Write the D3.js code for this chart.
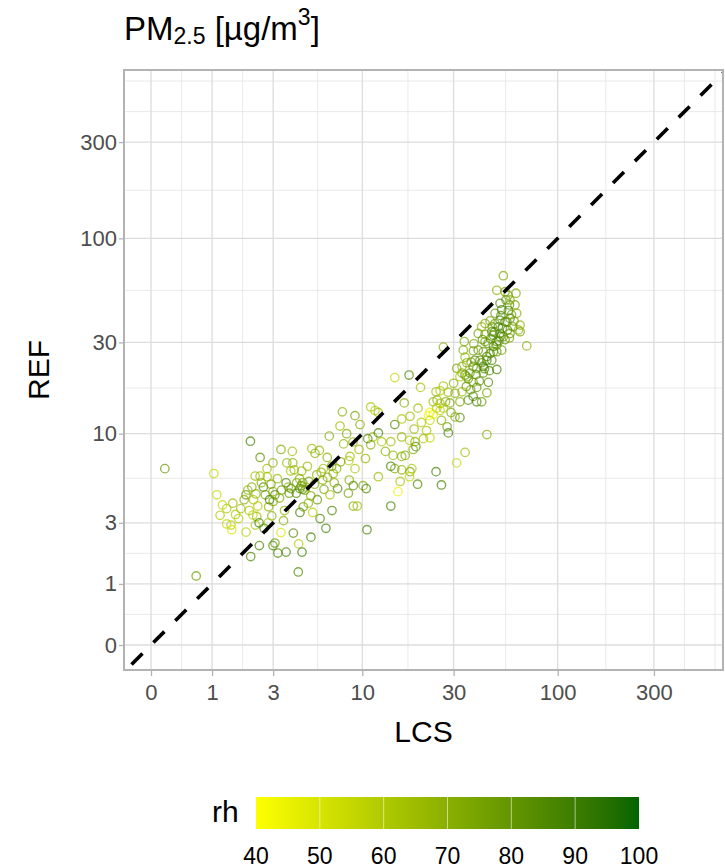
<!DOCTYPE html>
<html><head><meta charset="utf-8">
<script src="https://cdn.jsdelivr.net/npm/d3@7"></script>
<style>body{margin:0;background:#fff} svg{display:block;font-family:"Liberation Sans",Arial,sans-serif}</style>
</head><body><svg id="c" width="725" height="868"></svg>
<script>
// ---- data ----
const lcs = [
0.17,1.04,1.11,1.19,1.36,1.53,1.61,1.77,1.36,1.48,
1.5,1.94,1.88,2.09,2.14,2.26,2.29,2.36,2.18,2.27,
2.32,1.94,2.45,2.45,2.58,2.66,2.73,2.74,2.8,2.41,
2.61,2.84,2.94,2.99,2.99,3.08,3.0,2.78,3.37,3.37,
3.67,3.63,3.75,3.55,3.97,4.0,3.88,4.08,4.22,4.42,
4.59,4.59,4.53,4.74,4.42,4.63,4.03,4.34,4.55,3.63,
3.22,3.08,2.99,2.42,2.1,4.32,5.14,5.26,4.96,5.13,
5.2,5.43,5.56,5.81,6.28,5.76,6.07,6.02,6.12,6.39,
6.56,6.62,6.91,6.77,7.22,7.31,7.54,7.77,8.21,8.43,
8.57,8.49,8.39,8.93,9.12,9.12,9.39,9.72,10.1,10.5,
10.4,10.6,8.93,0.67,4.5,4.8,5.0,3.9,
26.6,34.0,37.8,40.0,43.3,47.7,51.5,53.5,57.8,64.9,
70.1,49.6,47.7,44.2,41.6,39.3,35.0,34.3,31.1,33.1,
35.0,36.3,37.7,45.0,49.6,42.4,39.3,36.6,37.7,35.6,
41.6,44.2,39.3,33.1,32.3,30.5,28.2,28.7,27.3,29.1,
30.5,32.3,27.8,28.2,26.6,25.6,24.4,23.6,24.7,25.6,
22.7,23.6,22.3,25.6,26.6,24.6,22.7,20.3,17.7,14.9,
16.7,19.7,17.9,16.2,14.9,44.2,34.3,31.1,24.4,26.0,
19.6,17.9,17.8,15.5,14.2,15.9,16.2,16.9,14.6,14.2,
14.9,16.2,12.2,11.4,11.1,12.7,12.2,10.7,14.2,16.2,
17.8,19.0,19.2,18.6,22.7,21.0,11.7,12.2,11.1,18.3,
53.5,49.6,61.9,55.2,57.4,61.2,51.5,48.6,52.5,56.7,
62.4,64.9,63.7,57.8,54.6,51.5,48.6,45.9,43.3,41.6,
46.8,50.5,56.1,59.7,54.6,57.8,51.5,49.6,54.6,57.4,
47.7,45.9,49.6,52.5,44.2,46.8,42.4,40.8,37.7,33.6,
33.1,34.3,35.6,32.3,40.0,42.4,38.5,43.3,
2.0,2.2,2.5,2.9,3.2,3.4,3.3,3.8,4.2,4.4,
4.9,5.4,5.9,6.4,7.0,7.6,7.9,8.9,9.6,5.6,
6.8,3.5,1.7,2.05,1.25,
44.8,46.2,48.2,50.8,53.0,55.8,58.8,52.0,47.0,39.0,
40.5,36.8,43.0,45.5,30.0,34.8,60.5,56.5,38.0,42.0,
20.5,18.8,13.3,21.8,26.0
];
const ref = [
6.4,6.0,4.5,3.36,3.7,4.0,3.4,3.7,2.95,2.9,
2.7,4.5,4.2,9.1,5.0,5.8,4.55,3.84,3.37,2.9,
3.3,2.6,7.4,5.8,5.0,4.5,6.4,5.75,3.8,3.0,
2.76,4.2,3.33,6.9,4.7,4.5,4.1,3.0,8.2,2.58,
6.9,5.3,5.0,3.6,8.0,6.9,6.2,6.3,5.3,4.9,
4.85,5.3,6.2,4.8,3.5,3.8,2.56,2.15,1.87,1.87,
1.84,2.18,2.09,2.09,1.73,1.29,2.4,3.5,4.0,4.44,
8.3,7.8,5.9,3.2,2.76,8.1,6.4,5.5,4.85,7.4,
9.7,4.5,6.0,6.6,6.4,4.9,11.0,13.1,10.0,7.1,
7.5,5.5,4.6,3.84,12.5,6.4,3.84,11.2,5.1,4.9,
7.3,2.7,5.1,1.19,5.1,5.0,5.4,4.9,
28.4,30.3,27.2,33.3,33.0,32.6,33.3,32.1,33.3,34.0,
28.8,29.1,26.9,25.4,23.6,22.1,23.6,25.2,22.1,20.9,
20.0,20.9,18.7,18.7,21.8,20.9,17.6,17.1,15.8,15.1,
14.8,16.5,14.8,16.7,14.8,16.4,16.6,14.6,14.8,13.0,
12.3,12.2,10.9,10.1,17.9,16.9,16.7,14.8,15.1,14.5,
13.0,12.7,12.5,13.3,13.7,13.7,11.8,17.6,20.4,19.8,
14.6,13.7,12.4,12.0,11.2,9.9,7.9,6.9,6.15,5.15,
5.2,6.15,5.75,4.7,3.84,5.4,7.5,7.6,7.6,6.6,
6.4,6.3,5.75,9.6,8.7,9.05,10.1,9.4,9.05,9.6,
9.2,9.05,8.5,8.2,9.5,9.4,13.3,13.0,13.9,6.4,
65.1,55.0,53.2,49.2,46.4,46.4,47.3,42.1,43.9,43.5,
42.1,36.7,34.7,39.7,38.2,38.9,37.4,38.6,37.4,36.0,
34.0,36.0,34.7,36.0,54.1,49.2,32.1,30.3,31.0,31.6,
28.6,26.3,26.9,27.4,24.3,24.3,22.6,24.3,22.6,27.4,
22.6,20.4,19.5,20.0,27.4,26.9,24.3,30.3,
4.8,4.2,5.3,5.2,5.6,4.8,4.3,4.6,4.6,5.6,
6.6,5.2,6.1,5.7,5.3,7.0,8.8,9.0,8.2,4.2,
3.6,3.1,3.2,3.6,3.9,
29.6,31.4,33.8,30.6,35.5,38.0,41.5,41.0,36.0,20.5,
19.0,23.8,22.0,21.5,18.5,17.8,38.5,52.0,29.5,31.0,
11.5,10.6,8.0,10.4,11.8
];
const rh = [
80,55,55,60,62,65,60,65,55,60,
50,80,70,88,72,65,70,60,55,60,
65,58,82,65,88,75,65,62,68,90,
88,88,70,70,70,85,75,65,72,50,
68,88,72,68,65,70,62,68,72,85,
80,75,65,78,88,75,85,60,90,88,
85,80,85,88,85,85,88,58,68,72,
65,70,70,85,88,68,62,70,75,70,
72,62,68,75,70,88,65,70,72,60,
65,70,75,70,75,62,65,70,72,88,
68,88,85,78,82,70,75,80,
72,72,75,75,78,80,82,80,80,75,
70,80,82,85,80,78,70,68,75,70,
72,78,75,85,88,80,82,78,88,88,
78,75,85,65,72,70,68,75,70,72,
70,85,78,88,62,60,65,65,70,62,
45,45,42,55,62,58,55,62,85,55,
70,65,65,62,85,70,65,55,88,88,
85,75,55,45,88,62,70,72,68,88,
75,70,65,65,70,62,88,85,65,68,
60,70,85,72,55,62,60,65,62,62,
72,70,72,80,82,75,85,78,88,85,
72,70,68,85,88,85,80,75,72,70,
82,88,85,78,78,72,88,85,80,75,
88,85,80,78,88,85,90,82,80,72,
70,85,80,60,82,78,85,75,
68,62,70,75,66,78,72,80,85,70,
66,72,68,74,70,72,68,70,66,80,
86,70,58,62,55,
82,80,85,84,86,80,78,84,78,84,
80,76,86,84,70,78,76,76,74,80,
60,66,70,62,70
];
const axisTicks = [0, 1, 3, 10, 30, 100, 300];
const rhTicks = [40, 50, 60, 70, 80, 90, 100];
const rhLimits = [40, 100];
const xLimits = [-0.3585, 658.1];
const yLimits = [-0.328, 681.3];

// ---- layout ----
const svg = d3.select("#c");
const P = {l: 124, r: 723, t: 70, b: 670};
const x = d3.scaleSymlog().constant(1).domain(xLimits).range([P.l, P.r]);
const y = d3.scaleSymlog().constant(1).domain(yLimits).range([P.b, P.t]);
const col = d3.scaleLinear().domain(rhLimits).range(["#ffff00", "#006400"]).interpolate(d3.interpolateLab);

svg.append("rect").attr("width", 725).attr("height", 868).attr("fill", "#fff");
svg.append("defs").append("clipPath").attr("id", "clip")
  .append("rect").attr("x", P.l).attr("y", P.t).attr("width", P.r - P.l).attr("height", P.b - P.t);

const panel = svg.append("g").attr("clip-path", "url(#clip)");

// minor grid positions (midpoints in transformed space, extended by the first step)
function minorPos(sc) {
  const p = axisTicks.map(sc);
  const step = p[1] - p[0];
  const ext = [p[0] - step, ...p, p[p.length - 1] + step];
  const out = [];
  for (let i = 0; i < ext.length - 1; i++) out.push((ext[i] + ext[i + 1]) / 2);
  out.push(ext[0], ext[ext.length - 1]);
  return out;
}
minorPos(x).forEach(px => panel.append("line").attr("x1", px).attr("x2", px).attr("y1", P.t).attr("y2", P.b)
  .attr("stroke", "#e6e6e6").attr("stroke-width", 0.9));
minorPos(y).forEach(py => panel.append("line").attr("y1", py).attr("y2", py).attr("x1", P.l).attr("x2", P.r)
  .attr("stroke", "#e6e6e6").attr("stroke-width", 0.9));
axisTicks.forEach(v => {
  panel.append("line").attr("x1", x(v)).attr("x2", x(v)).attr("y1", P.t).attr("y2", P.b)
    .attr("stroke", "#dcdcdc").attr("stroke-width", 1.3);
  panel.append("line").attr("y1", y(v)).attr("y2", y(v)).attr("x1", P.l).attr("x2", P.r)
    .attr("stroke", "#dcdcdc").attr("stroke-width", 1.3);
});

// points
const pts = lcs.map((d, i) => ({lcs: d, ref: ref[i], rh: rh[i]}));
panel.selectAll("circle.pt").data(pts).join("circle").attr("class", "pt")
  .attr("cx", d => x(d.lcs)).attr("cy", d => y(d.ref)).attr("r", 4.2)
  .attr("fill", "none").attr("stroke", d => col(d.rh))
  .attr("stroke-width", 1.35).attr("stroke-opacity", 0.7);

// 1:1 line
panel.append("line")
  .attr("x1", x(xLimits[0])).attr("y1", y(xLimits[0]))
  .attr("x2", x(xLimits[1])).attr("y2", y(xLimits[1]))
  .attr("stroke", "#000").attr("stroke-width", 3.6)
  .attr("stroke-dasharray", "15.5,15.45").attr("stroke-dashoffset", 20.3);

// panel border
svg.append("rect").attr("x", P.l).attr("y", P.t).attr("width", P.r - P.l).attr("height", P.b - P.t)
  .attr("fill", "none").attr("stroke", "#b3b3b3").attr("stroke-width", 2);

// axes
const xAxis = d3.axisBottom(x).tickValues(axisTicks).tickFormat(d3.format("d")).tickSize(6).tickPadding(8);
const gx = svg.append("g").attr("transform", `translate(0,${P.b})`).call(xAxis);
gx.select(".domain").remove();
gx.selectAll(".tick line").attr("stroke", "#b3b3b3").attr("stroke-width", 1.3);
gx.selectAll(".tick text").attr("font-size", 22).attr("fill", "#4d4d4d")
  .attr("font-family", "Liberation Sans, Arial, sans-serif");

const yAxis = d3.axisLeft(y).tickValues(axisTicks).tickFormat(d3.format("d")).tickSize(5).tickPadding(2);
const gy = svg.append("g").attr("transform", `translate(${P.l},0)`).call(yAxis);
gy.select(".domain").remove();
gy.selectAll(".tick line").attr("stroke", "#b3b3b3").attr("stroke-width", 1.3);
gy.selectAll(".tick text").attr("font-size", 22).attr("fill", "#4d4d4d")
  .attr("font-family", "Liberation Sans, Arial, sans-serif");

svg.append("text").attr("x", (P.l + P.r) / 2).attr("y", 742).attr("text-anchor", "middle")
  .attr("font-size", 30).attr("fill", "#000").text("LCS");
svg.append("text").attr("transform", `translate(49,${(P.t + P.b) / 2}) rotate(-90)`).attr("text-anchor", "middle")
  .attr("font-size", 30).attr("fill", "#000").text("REF");

// title
const title = svg.append("text").attr("x", 124).attr("y", 40).attr("font-size", 33).attr("fill", "#000");
title.append("tspan").text("PM");
title.append("tspan").attr("font-size", 23).attr("dy", 4).text("2.5");
title.append("tspan").attr("dy", -4).text(" [µg/m");
title.append("tspan").attr("font-size", 23).attr("dy", -15).text("3");
title.append("tspan").attr("dy", 15).text("]");

// colour legend
const lx = d3.scaleLinear().domain(rhLimits).range([256, 639]);
const grad = svg.select("defs").append("linearGradient").attr("id", "rhgrad");
d3.range(0, 1.0001, 0.05).forEach(f => {
  const v = rhLimits[0] + f * (rhLimits[1] - rhLimits[0]);
  grad.append("stop").attr("offset", f).attr("stop-color", col(v));
});
svg.append("rect").attr("x", lx(rhLimits[0])).attr("y", 797).attr("width", lx(rhLimits[1]) - lx(rhLimits[0]))
  .attr("height", 32).attr("fill", "url(#rhgrad)");
rhTicks.slice(1, -1).forEach(v => {
  svg.append("line").attr("x1", lx(v)).attr("x2", lx(v)).attr("y1", 797).attr("y2", 829)
    .attr("stroke", "#fff").attr("stroke-opacity", 0.55).attr("stroke-width", 1);
});
svg.append("text").attr("x", 212).attr("y", 822).attr("font-size", 30).attr("fill", "#000").text("rh");
rhTicks.forEach(v => {
  svg.append("text").attr("x", lx(v)).attr("y", 864).attr("text-anchor", "middle")
    .attr("font-size", 23).attr("fill", "#000").text(v);
});
</script></body></html>
